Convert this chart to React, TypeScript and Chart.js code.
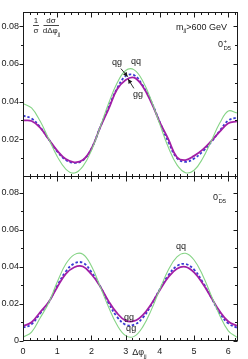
import React, { useEffect, useRef } from "react";
import { Chart, registerables } from "chart.js";

Chart.register(...registerables);

// ---------- data ----------
const PHI = [0, 0.25, 0.5, 0.75, 1, 1.25, 1.5, 1.75, 2, 2.25, 2.5, 2.75, 3, 3.25, 3.5, 3.75, 4, 4.25, 4.5, 4.75, 5, 5.25, 5.5, 5.75, 6, 6.25];

// panel 0+_D5 (top)
const TOP_QQ = [0.0390, 0.0366, 0.0297, 0.0203, 0.0109, 0.0042, 0.0021, 0.0056, 0.0141, 0.0262, 0.0390, 0.0498, 0.0565, 0.0568, 0.0509, 0.0406, 0.0279, 0.0156, 0.0064, 0.0023, 0.0036, 0.0098, 0.0190, 0.0286, 0.0350, 0.0340];
const TOP_GG = [0.0300, 0.0297, 0.0262, 0.0200, 0.0140, 0.0095, 0.0078, 0.0090, 0.0150, 0.0260, 0.0360, 0.0465, 0.0515, 0.0527, 0.0480, 0.0395, 0.0290, 0.0200, 0.0105, 0.0090, 0.0112, 0.0145, 0.0190, 0.0240, 0.0285, 0.0295];
const TOP_QG = [0.0325, 0.0310, 0.0265, 0.0200, 0.0135, 0.0090, 0.0075, 0.0088, 0.0150, 0.0262, 0.0370, 0.0470, 0.0535, 0.0540, 0.0485, 0.0400, 0.0290, 0.0185, 0.0100, 0.0080, 0.0098, 0.0135, 0.0185, 0.0245, 0.0300, 0.0315];

// panel 0-_D5 (bottom)
const BOT_QQ = [0.0020, 0.0048, 0.0124, 0.0205, 0.0318, 0.0415, 0.0466, 0.0468, 0.0405, 0.0296, 0.0183, 0.0086, 0.0029, 0.0025, 0.0076, 0.0168, 0.0280, 0.0384, 0.0454, 0.0473, 0.0437, 0.0355, 0.0246, 0.0138, 0.0055, 0.0020];
const BOT_GG = [0.0081, 0.0101, 0.0155, 0.0210, 0.0290, 0.0362, 0.0398, 0.0402, 0.0360, 0.0296, 0.0215, 0.0150, 0.0110, 0.0108, 0.0140, 0.0200, 0.0275, 0.0345, 0.0390, 0.0400, 0.0370, 0.0310, 0.0235, 0.0160, 0.0105, 0.0082];
const BOT_QG = [0.0072, 0.0090, 0.0148, 0.0208, 0.0298, 0.0375, 0.0418, 0.0422, 0.0372, 0.0297, 0.0205, 0.0130, 0.0088, 0.0088, 0.0125, 0.0195, 0.0280, 0.0355, 0.0405, 0.0415, 0.0385, 0.0318, 0.0235, 0.0150, 0.0095, 0.0072];

const X_TICKS = [0, 1, 2, 3, 4, 5, 6];
const Y_TICKS_TOP = [0.02, 0.04, 0.06, 0.08];
const Y_TICKS_BOT = [0, 0.02, 0.04, 0.06, 0.08];
const X_MAX = 2 * Math.PI;
const Y_MAX_TOP = 0.0875;
const Y_MAX_BOT = 0.089;
const X_MINOR = 0.2;
const Y_MINOR = 0.01;

// ---------- style ----------
const FONT = '"Liberation Sans", Arial, Helvetica, sans-serif';
const GREEN = "#86d486";
const MAGENTA = "#a21fa6";
const BLUE = "#3a3ad2";
const INK = "#1a1a1a";

function rich(ctx: CanvasRenderingContext2D, parts: { t: string; s: number; dy?: number }[], x: number, y: number, align: string) {
  let w = 0;
  for (const p of parts) {
    ctx.font = `${p.s}px ${FONT}`;
    w += ctx.measureText(p.t).width;
  }
  let cx = align === "center" ? x - w / 2 : align === "right" ? x - w : x;
  ctx.textAlign = "left";
  ctx.textBaseline = "alphabetic";
  for (const p of parts) {
    ctx.font = `${p.s}px ${FONT}`;
    ctx.fillText(p.t, cx, y + (p.dy || 0));
    cx += ctx.measureText(p.t).width;
  }
}

function arrow(ctx: CanvasRenderingContext2D, x1: number, y1: number, x2: number, y2: number) {
  ctx.beginPath();
  ctx.moveTo(x1, y1);
  ctx.lineTo(x2, y2);
  ctx.stroke();
  const a = Math.atan2(y2 - y1, x2 - x1);
  const L = 4.5, W = 2.2;
  ctx.beginPath();
  ctx.moveTo(x2, y2);
  ctx.lineTo(x2 - L * Math.cos(a) + W * Math.sin(a), y2 - L * Math.sin(a) - W * Math.cos(a));
  ctx.lineTo(x2 - L * Math.cos(a) - W * Math.sin(a), y2 - L * Math.sin(a) + W * Math.cos(a));
  ctx.closePath();
  ctx.fill();
}

function zeroD5(ctx: CanvasRenderingContext2D, x: number, y: number, sign: string) {
  ctx.textAlign = "left";
  ctx.textBaseline = "alphabetic";
  ctx.font = `9px ${FONT}`;
  ctx.fillText("0", x, y);
  const w = ctx.measureText("0").width;
  ctx.font = `6px ${FONT}`;
  ctx.fillText(sign, x + w + 0.5, y - 4);
  ctx.fillText("D5", x + w + 0.5, y + 3);
}

const framePlugin = {
  id: "frame",
  afterDraw(chart: any) {
    const { ctx, chartArea, scales } = chart;
    const { left, right, top, bottom } = chartArea;
    const x = scales.x, y = scales.y;
    const cfg = chart.options.plugins.frame;
    ctx.save();
    ctx.strokeStyle = INK;
    ctx.fillStyle = INK;
    ctx.lineWidth = 1;
    const L = Math.round(left) + 0.5;
    const R = Math.round(right) - 0.5;
    const T = Math.round(top) + 0.5;
    const B = Math.round(bottom) - 0.5;
    ctx.strokeRect(L, T, R - L, B - T);
    ctx.beginPath();
    // x ticks (inward, top & bottom)
    for (let v = 0; v <= X_MAX + 1e-9; v += X_MINOR) {
      const major = Math.abs(v - Math.round(v)) < 1e-6;
      const len = major ? 5 : 2.5;
      const px = Math.round(x.getPixelForValue(v)) + 0.5;
      ctx.moveTo(px, B);
      ctx.lineTo(px, B - len);
      ctx.moveTo(px, T);
      ctx.lineTo(px, T + len);
    }
    // y ticks (left outward, right inward)
    for (let v = 0; v <= y.max + 1e-9; v += Y_MINOR) {
      const major = Math.abs(v / 0.02 - Math.round(v / 0.02)) < 1e-6;
      const py = Math.round(y.getPixelForValue(v)) + 0.5;
      ctx.moveTo(L, py);
      ctx.lineTo(L - (major ? 4 : 2.5), py);
      ctx.moveTo(R, py);
      ctx.lineTo(R - (major ? 4 : 2.5), py);
    }
    ctx.stroke();

    const px = (v: number) => x.getPixelForValue(v);
    const py = (v: number) => y.getPixelForValue(v);

    if (cfg.panel === "top") {
      // y-axis title 1/σ dσ/dΔφjj
      ctx.textAlign = "center";
      ctx.font = `8px ${FONT}`;
      ctx.fillText("1", 36, 23);
      ctx.fillText("σ", 36, 32.5);
      ctx.fillText("dσ", 51, 23);
      ctx.lineWidth = 0.8;
      ctx.beginPath();
      ctx.moveTo(33, 25.5); ctx.lineTo(39, 25.5);
      ctx.moveTo(43.5, 25.5); ctx.lineTo(59, 25.5);
      ctx.stroke();
      rich(ctx, [{ t: "dΔφ", s: 8 }, { t: "jj", s: 5.5, dy: 3 }], 51.5, 33, "center");
      // cut label
      rich(ctx, [{ t: "m", s: 9 }, { t: "jj", s: 6, dy: 2.5 }, { t: ">600 GeV", s: 9 }], right - 11, 29.5, "right");
      zeroD5(ctx, right - 20, 46.5, "+");
      // curve labels
      ctx.font = `9px ${FONT}`;
      ctx.textAlign = "center";
      ctx.fillText("qg", px(2.75), py(0.0605) + 2.5);
      ctx.fillText("qq", px(3.30), py(0.0612) + 2.5);
      ctx.fillText("gg", px(3.36), py(0.0435) + 2.5);
      ctx.lineWidth = 0.9;
      arrow(ctx, px(2.86), py(0.0575), px(3.06), py(0.0532));
      arrow(ctx, px(3.24), py(0.0470), px(3.07), py(0.0520));
    } else {
      zeroD5(ctx, right - 25, 23.5, "−");
      ctx.font = `9px ${FONT}`;
      ctx.textAlign = "center";
      ctx.fillText("qq", px(4.62), py(0.0512) + 2.5);
      ctx.fillText("gg", px(3.10), py(0.0129) + 2.5);
      ctx.fillText("qg", px(3.16), py(0.0068) + 2.5);
      rich(ctx, [{ t: "Δφ", s: 9 }, { t: "jj", s: 6, dy: 3 }], px(3.19), bottom + 14, "left");
    }
    ctx.restore();
  },
};

function pts(vals: number[]) {
  return PHI.map((p, i) => ({ x: p, y: vals[i] }));
}

function noPad(ax: any) {
  ax.paddingTop = 0;
  ax.paddingBottom = 0;
  ax.paddingLeft = 0;
  ax.paddingRight = 0;
}

function makeConfig(panel: "top" | "bottom") {
  const isTop = panel === "top";
  const qq = isTop ? TOP_QQ : BOT_QQ;
  const gg = isTop ? TOP_GG : BOT_GG;
  const qg = isTop ? TOP_QG : BOT_QG;
  const yTicks = isTop ? Y_TICKS_TOP : Y_TICKS_BOT;
  const tickFont = { family: FONT, size: 9 };
  const common = { pointRadius: 0, tension: 0.4, fill: false };
  return {
    type: "line",
    data: {
      datasets: [
        { label: "qq", data: pts(qq), borderColor: GREEN, borderWidth: 1.1, ...common },
        { label: "gg", data: pts(gg), borderColor: MAGENTA, borderWidth: 1.8, ...common },
        { label: "qg", data: pts(qg), borderColor: BLUE, borderWidth: 1.8, borderDash: [2.5, 2], ...common },
      ],
    },
    options: {
      animation: false,
      responsive: false,
      devicePixelRatio: 1,
      events: [],
      layout: { autoPadding: false, padding: { top: isTop ? 12 : 0, right: 10, left: 0, bottom: 0 } },
      plugins: { legend: { display: false }, tooltip: { enabled: false }, frame: { panel } },
      scales: {
        x: {
          type: "linear",
          min: 0,
          max: X_MAX,
          display: !isTop,
          grid: { display: false, drawTicks: false },
          border: { display: false },
          ticks: { padding: 5, font: tickFont, color: INK, maxRotation: 0, autoSkip: false, callback: (v: number) => String(v) },
          afterBuildTicks: (ax: any) => { ax.ticks = X_TICKS.map((v) => ({ value: v })); },
          afterFit: (ax: any) => { ax.height = isTop ? 0 : 18; noPad(ax); },
        },
        y: {
          type: "linear",
          min: 0,
          max: isTop ? Y_MAX_TOP : Y_MAX_BOT,
          grid: { display: false, drawTicks: false },
          border: { display: false },
          ticks: { padding: 4, font: tickFont, color: INK, autoSkip: false, callback: (v: number) => (v === 0 ? "0" : v.toFixed(2)) },
          afterBuildTicks: (ax: any) => { ax.ticks = yTicks.map((v) => ({ value: v })); },
          afterFit: (ax: any) => { ax.width = 23; noPad(ax); },
        },
      },
    },
    plugins: [framePlugin],
  };
}

function Panel({ panel, top, height }: { panel: "top" | "bottom"; top: number; height: number }) {
  const ref = useRef<HTMLCanvasElement>(null);
  useEffect(() => {
    if (!ref.current) return;
    const chart = new Chart(ref.current, makeConfig(panel) as any);
    return () => chart.destroy();
  }, [panel]);
  return (
    <canvas
      ref={ref}
      width={248}
      height={height}
      style={{ position: "absolute", left: 0, top, width: 248, height, display: "block" }}
    />
  );
}

export default function App() {
  return (
    <div style={{ position: "absolute", left: 0, top: 0, width: 248, height: 359, background: "#fff", overflow: "hidden" }}>
      <Panel panel="top" top={0} height={177} />
      <Panel panel="bottom" top={176} height={183} />
    </div>
  );
}
